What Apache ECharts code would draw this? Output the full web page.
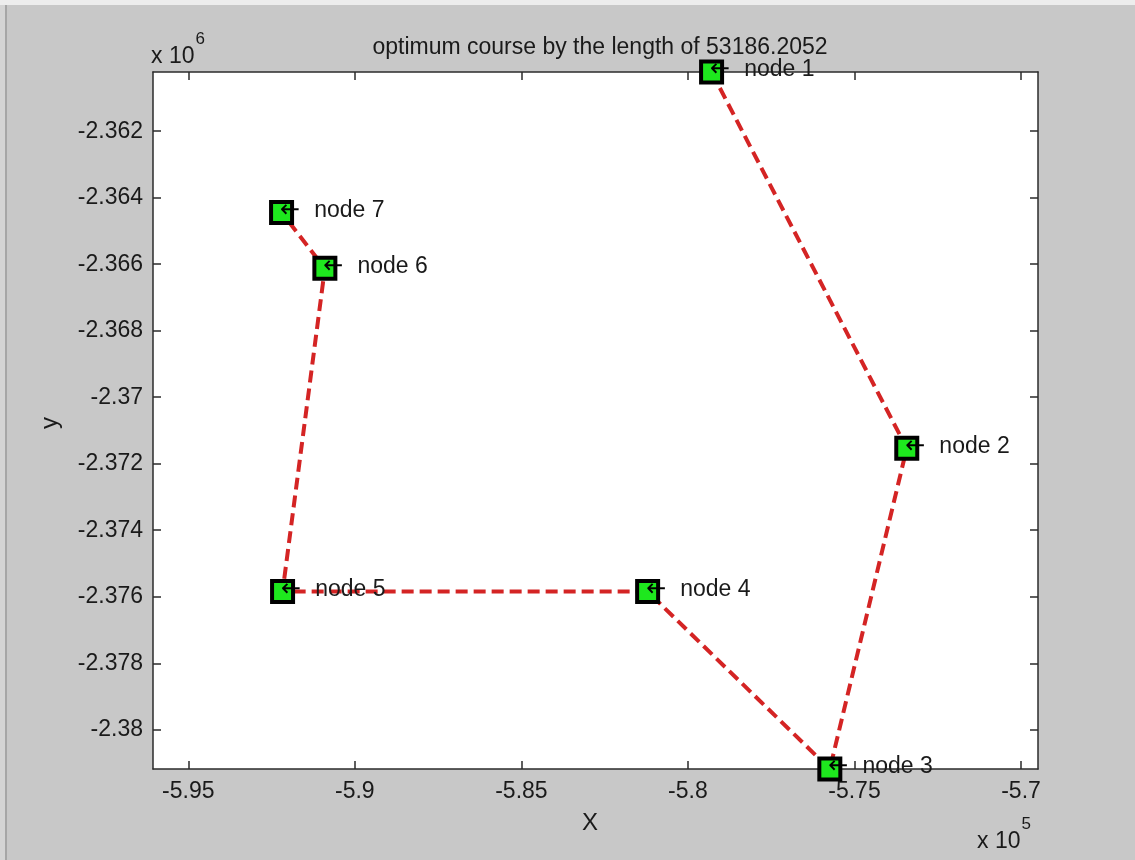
<!DOCTYPE html>
<html>
<head>
<meta charset="utf-8">
<title>optimum course</title>
<script src="https://cdn.jsdelivr.net/npm/echarts@6/dist/echarts.min.js"></script>
<style>
  html, body { margin: 0; padding: 0; background: #c8c8c8; }
  #chart { width: 1135px; height: 860px; }
</style>
</head>
<body>
<div id="chart"></div>
<script>
// node coordinates (visit order 1..7)
const nodeNames = ["node 1", "node 2", "node 3", "node 4", "node 5", "node 6", "node 7"];
const nodeX = [-579290, -573430, -575740, -581210, -592170, -590900, -592200];
const nodeY = [-2360220, -2371535, -2381180, -2375845, -2375845, -2366125, -2364445];

// axis limits and ticks
const xLimits = [-596060, -569490];
const yLimits = [-2381180, -2360220];
const xTicks = [-595000, -590000, -585000, -580000, -575000, -570000];
const xTickLabels = ["-5.95", "-5.9", "-5.85", "-5.8", "-5.75", "-5.7"];
const yTicks = [-2380000, -2378000, -2376000, -2374000, -2372000, -2370000, -2368000, -2366000, -2364000, -2362000];
const yTickLabels = ["-2.38", "-2.378", "-2.376", "-2.374", "-2.372", "-2.37", "-2.368", "-2.366", "-2.364", "-2.362"];

const titleText = "optimum course by the length of 53186.2052";

const font = "Liberation Sans, Arial, sans-serif";
const axisColor = "#2b2b2b";
const textColor = "#1a1a1a";

const chart = echarts.init(document.getElementById("chart"));

const points = nodeX.map((x, i) => ({ name: nodeNames[i], value: [x, nodeY[i]] }));

// shared axis pieces (box on, ticks pointing inward)
const tickStyle = (vals) => ({
  show: true, inside: true, length: 8, customValues: vals,
  lineStyle: { color: axisColor, width: 1.5 }
});
const lineStyle = { show: true, onZero: false, lineStyle: { color: axisColor, width: 1.5 } };

// "x 10^n" exponent note
const expRich = {
  b: { fontSize: 23, fontFamily: font, fill: textColor, padding: [14, 0, 0, 0] },
  s: { fontSize: 17, fontFamily: font, fill: textColor, verticalAlign: "top", padding: [0, 0, 14, 1] }
};

chart.setOption({
  backgroundColor: "#c8c8c8",
  animation: false,
  title: {
    text: titleText,
    left: 595, textAlign: "center", top: 31,
    textStyle: { fontFamily: font, fontSize: 23, fontWeight: "normal", color: textColor }
  },
  grid: {
    left: 153, right: 97, top: 72, bottom: 91,
    show: true, backgroundColor: "#ffffff", borderWidth: 0
  },
  xAxis: [
    {
      type: "value", position: "bottom", min: xLimits[0], max: xLimits[1],
      axisLine: lineStyle, axisTick: tickStyle(xTicks), splitLine: { show: false },
      axisLabel: {
        customValues: xTicks, margin: 11,
        fontFamily: font, fontSize: 23, color: textColor,
        formatter: (v) => xTickLabels[xTicks.indexOf(v)]
      }
    },
    {
      type: "value", position: "top", min: xLimits[0], max: xLimits[1],
      axisLine: lineStyle, axisTick: tickStyle(xTicks), splitLine: { show: false },
      axisLabel: { show: false }
    }
  ],
  yAxis: [
    {
      type: "value", position: "left", min: yLimits[0], max: yLimits[1],
      axisLine: lineStyle, axisTick: tickStyle(yTicks), splitLine: { show: false },
      axisLabel: {
        customValues: yTicks, margin: 10,
        fontFamily: font, fontSize: 23, color: textColor,
        formatter: (v) => yTickLabels[yTicks.indexOf(v)]
      }
    },
    {
      type: "value", position: "right", min: yLimits[0], max: yLimits[1],
      axisLine: lineStyle, axisTick: tickStyle(yTicks), splitLine: { show: false },
      axisLabel: { show: false }
    }
  ],
  series: [
    {
      type: "line",
      data: points,
      xAxisIndex: 0, yAxisIndex: 0,
      symbol: "rect",
      symbolSize: 21,
      itemStyle: { color: "#1ee81e", borderColor: "#000000", borderWidth: 4 },
      lineStyle: { color: "#d42424", width: 4, type: [12, 6] },
      label: {
        show: true,
        position: [11, 10.5],
        align: "left",
        verticalAlign: "middle",
        fontFamily: font,
        fontSize: 23,
        color: textColor,
        formatter: (p) => "{a|\u2190}{t|" + p.name + "}",
        rich: {
          a: { fontFamily: "DejaVu Sans", fontSize: 24, color: "#000", padding: [0, 14, 0, 0] },
          t: { fontFamily: font, fontSize: 23, color: textColor }
        }
      },
      z: 3
    }
  ],
  graphic: [
    { type: "rect", z: -10, shape: { x: 0, y: 0, width: 1135, height: 5 }, style: { fill: "#ededed" } },
    { type: "rect", z: -10, shape: { x: 0, y: 5, width: 5, height: 855 }, style: { fill: "#d4d4d4" } },
    { type: "rect", z: -10, shape: { x: 5, y: 5, width: 2, height: 855 }, style: { fill: "#a6a6a6" } },
    {
      type: "text", left: 151, top: 31,
      style: { text: "{b|x 10}{s|6}", fontFamily: font, rich: expRich }
    },
    {
      type: "text", left: 977, top: 816,
      style: { text: "{b|x 10}{s|5}", fontFamily: font, rich: expRich }
    },
    {
      type: "text", x: 590, y: 823,
      style: { text: "X", fontFamily: font, fontSize: 24, fill: textColor, align: "center", verticalAlign: "middle" }
    },
    {
      type: "text", x: 50, y: 423, rotation: Math.PI / 2,
      style: { text: "y", fontFamily: font, fontSize: 24, fill: textColor, align: "center", verticalAlign: "middle" }
    }
  ]
});
</script>
</body>
</html>
